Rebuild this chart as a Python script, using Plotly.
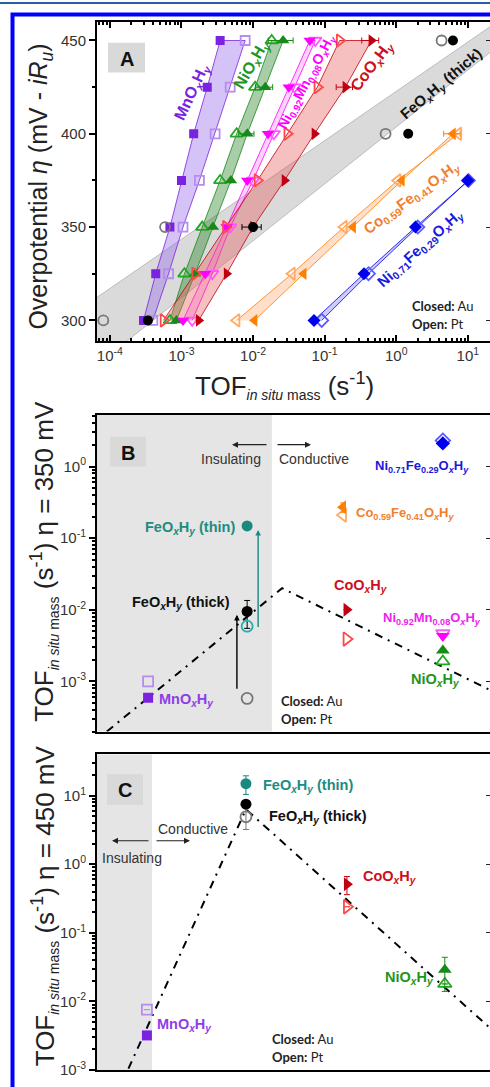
import math
import plotly.graph_objects as go

W, H = 490, 1087
FONT = "Liberation Sans"

# ---------------- Panel A data (TOF in s^-1 vs overpotential in mV) ----------------
eta = [300, 325, 350, 375, 400, 425, 450]
mn_au = [2.95e-4, 4.37e-4, 6.9e-4, 1.0e-3, 1.48e-3, 2.29e-3, 3.47e-3]
mn_pt = [3.98e-4, 6.6e-4, 1.05e-3, 1.78e-3, 2.95e-3, 4.79e-3, 7.76e-3]
ni_au = [8.5e-4, 1.55e-3, 2.75e-3, 4.9e-3, 8.3e-3, 1.48e-2, 2.63e-2]
ni_pt = [6.9e-4, 1.1e-3, 1.95e-3, 3.47e-3, 5.9e-3, 1.07e-2, 1.82e-2]
ni_au_err = [0, 0, 0, 0, 0.002, 0.004, 0.01]
nimn_au = [1.05e-3, 2.14e-3, 4.27e-3, 8.3e-3, 1.62e-2, 3.16e-2, 6.2e-2]
nimn_pt = [1.41e-3, 2.69e-3, 4.79e-3, 1.0e-2, 1.95e-2, 3.8e-2, 7.4e-2]
co_au = [1.74e-3, 4.27e-3, 1.0e-2, 2.75e-2, 7.2e-2, 0.195, 0.45]
co_pt = [5.6e-4, 1.55e-3, 4.17e-3, 1.15e-2, 3.0e-2, 7.9e-2, 0.162]
co_au_err = [0, 0, 0, 0, 0, 0.05, 0.12]
eta_fe = [300, 350, 400, 450]
fe_au = [3.4e-4, 1.0e-2, 1.47, 6.2]
fe_pt = [8.1e-5, 5.9e-4, 0.71, 4.3]
fe_au_err = [0, 0.003, 0, 0]
eta_fe_band = [288, 461]
fe_band_left = [7.9e-6, 28.0]
fe_band_right = [1.62e-4, 76.0]
eta_cofe = [300, 325, 350, 375, 400]
cofe_au = [1.05e-2, 5.1e-2, 0.25, 1.2, 6.2]
cofe_pt = [5.9e-3, 3.5e-2, 0.186, 1.05, 7.4]
cofe_au_err = [0, 0, 0, 0, 1.6]
eta_nife = [300, 325, 350, 375]
nife_au = [7.1e-2, 0.355, 1.86, 10.0]
nife_pt = [9.1e-2, 0.41, 2.0, 10.2]

a_xticks = [1e-4, 1e-3, 1e-2, 1e-1, 1, 10]
a_xticktext = ["10<sup>-4</sup>", "10<sup>-3</sup>", "10<sup>-2</sup>",
               "10<sup>-1</sup>", "10<sup>0</sup>", "10<sup>1</sup>"]
a_yticks = [300, 350, 400, 450]

# ---------------- Panel B data (eta = 350 mV) ----------------
b_names = ["mn", "fe_thick", "fe_thin", "co", "cofe", "nimn", "ni", "nife"]
b_pos = [13.0, 38.2, 38.2, 63.5, 62.6, 88.0, 88.0, 88.0]
b_au = [5.9e-4, 9.5e-3, 0.148, 1.0e-2, 0.27, 4.3e-3, 2.7e-3, 2.1]
b_pt = [1.0e-3, 5.8e-4, 5.9e-3, 3.9e-3, 0.21, 4.7e-3, 1.9e-3, 2.3]
b_au_err = [0, 0.004, 0, 0, 0.04, 0, 0, 0]
b_volcano_x = [2.5, 47.1, 100]
b_volcano_y = [2.0e-4, 2.0e-2, 7.6e-4]
b_insulating_limit = 44.5
b_arrow_black = [35.6, 7.5e-4, 8.5e-3]
b_arrow_teal = [41.0, 5.5e-3, 0.13]
b_yticks = [1e-3, 1e-2, 1e-1, 1]
b_yticktext = ["10<sup>-3</sup>", "10<sup>-2</sup>", "10<sup>-1</sup>", "10<sup>0</sup>"]

# ---------------- Panel C data (eta = 450 mV) ----------------
c_names = ["mn", "fe_thick", "fe_thin", "co", "ni"]
c_pos = [12.7, 37.9, 37.9, 63.6, 88.5]
c_au = [3.2e-3, 7.5, 14.9, 0.51, 0.029]
c_pt = [7.6e-3, 4.9, None, 0.24, 0.018]
c_au_err = [0, 0, 4.5, 0.15, 0.015]
c_pt_err = [0, 1.7, 0, 0, 0]
c_volcano_x = [8.0, 37.9, 100]
c_volcano_y = [1.05e-3, 6.3, 4.1e-3]
c_insulating_limit = 14.0
c_yticks = [1e-3, 1e-2, 1e-1, 1, 10]
c_yticktext = ["10<sup>-3</sup>", "10<sup>-2</sup>", "10<sup>-1</sup>", "10<sup>0</sup>", "10<sup>1</sup>"]

# ---------------- styles ----------------
STY = {
    "mn": dict(sym="square", au="#7a22e0", pt="#b58cf0", band="rgba(150,105,235,0.40)", sz=9),
    "ni": dict(sym="triangle-up", au="#178a17", pt="#22a822", band="rgba(30,120,30,0.38)", sz=11),
    "nimn": dict(sym="triangle-down", au="#ff00ff", pt="#ff55ff", band="rgba(255,110,255,0.30)", sz=11),
    "co": dict(sym="triangle-right", au="#c00010", pt="#ff4848", band="rgba(235,90,90,0.38)", sz=11),
    "fe_thick": dict(sym="circle", au="#000000", pt="#777777", band="rgba(150,150,150,0.35)", sz=10),
    "fe_thin": dict(sym="circle", au="#1a8a80", pt="#22b0b0", band=None, sz=10),
    "cofe": dict(sym="triangle-left", au="#ff8000", pt="#ffaa66", band="rgba(255,185,135,0.45)", sz=11),
    "nife": dict(sym="diamond", au="#0000ee", pt="#5a5aff", band="rgba(110,110,255,0.35)", sz=10),
}


def px(x):
    return x / W


def py(y):
    return 1 - y / H


fig = go.Figure()


def band(xa, xb, ys, key, ax="x", ay="y"):
    s = STY[key]
    fig.add_trace(go.Scatter(
        x=list(xa) + list(xb)[::-1], y=list(ys) + list(ys)[::-1],
        fill="toself", fillcolor=s["band"], mode="lines",
        line=dict(color=s["au"], width=0.8),
        xaxis=ax, yaxis=ay, showlegend=False, hoverinfo="skip"))


def marks(xs, ys, key, closed, ax, ay, err=None, err_dir="x", size_add=0):
    s = STY[key]
    col = s["au"] if closed else s["pt"]
    sym = s["sym"] if closed else s["sym"] + "-open"
    kw = {}
    if err is not None:
        kw["error_" + err_dir] = dict(type="data", array=err, visible=True, color=col,
                                      thickness=1, width=3)
    fig.add_trace(go.Scatter(
        x=xs, y=ys, mode="markers", xaxis=ax, yaxis=ay,
        marker=dict(symbol=sym, size=s["sz"] + size_add, color=col,
                    line=dict(width=1.8 if not closed else 0, color=col)),
        showlegend=False, hoverinfo="skip", **kw))


# ---------- Panel A ----------
fig.add_trace(go.Scatter(
    x=fe_band_left + fe_band_right[::-1], y=eta_fe_band + eta_fe_band[::-1],
    fill="toself", fillcolor=STY["fe_thick"]["band"], mode="lines",
    line=dict(color="rgba(120,120,120,0.5)", width=0.8), showlegend=False, hoverinfo="skip"))
band(mn_au, mn_pt, eta, "mn")
band(ni_au, ni_pt, eta, "ni")
band(nimn_au, nimn_pt, eta, "nimn")
band(co_pt, co_au, eta, "co")
band(cofe_pt, cofe_au, eta_cofe, "cofe")
band(nife_au, nife_pt, eta_nife, "nife")

marks(mn_pt, eta, "mn", False, "x", "y")
marks(mn_au, eta, "mn", True, "x", "y")
marks(ni_pt, eta, "ni", False, "x", "y")
marks(ni_au, eta, "ni", True, "x", "y", err=ni_au_err)
marks(nimn_pt, eta, "nimn", False, "x", "y")
marks(nimn_au, eta, "nimn", True, "x", "y")
marks(co_pt, eta, "co", False, "x", "y")
marks(co_au, eta, "co", True, "x", "y", err=co_au_err)
marks(fe_pt, eta_fe, "fe_thick", False, "x", "y")
marks(fe_au, eta_fe, "fe_thick", True, "x", "y", err=fe_au_err)
marks(cofe_pt, eta_cofe, "cofe", False, "x", "y")
marks(cofe_au, eta_cofe, "cofe", True, "x", "y", err=cofe_au_err)
marks(nife_pt, eta_nife, "nife", False, "x", "y")
marks(nife_au, eta_nife, "nife", True, "x", "y")

# ---------- Panel B ----------
fig.add_trace(go.Scatter(x=b_volcano_x, y=b_volcano_y, mode="lines", xaxis="x2", yaxis="y2",
                         line=dict(color="black", width=2, dash="8px,6px,2px,6px"),
                         showlegend=False, hoverinfo="skip"))
for i, k in enumerate(b_names):
    marks([b_pos[i]], [b_pt[i]], k, False, "x2", "y2", size_add=1)
    marks([b_pos[i]], [b_au[i]], k, True, "x2", "y2", err=[b_au_err[i]], err_dir="y", size_add=1)

# ---------- Panel C ----------
fig.add_trace(go.Scatter(x=c_volcano_x, y=c_volcano_y, mode="lines", xaxis="x3", yaxis="y3",
                         line=dict(color="black", width=2, dash="8px,6px,2px,6px"),
                         showlegend=False, hoverinfo="skip"))
for i, k in enumerate(c_names):
    if c_pt[i] is not None:
        marks([c_pos[i]], [c_pt[i]], k, False, "x3", "y3", err=[c_pt_err[i]], err_dir="y", size_add=1)
    marks([c_pos[i]], [c_au[i]], k, True, "x3", "y3", err=[c_au_err[i]], err_dir="y", size_add=1)

# dummy traces for right-side tick overlays
for yy in ["y4", "y5", "y6"]:
    fig.add_trace(go.Scatter(x=[], y=[], xaxis="x", yaxis=yy, showlegend=False))

# ---------- axes ----------
tickfont = dict(family=FONT, size=15, color="#333")
xdom = [px(97), 1.0]
dA = [py(344), py(22)]
dB = [py(737), py(418)]
dC = [py(1078), py(760)]


def log_minor(lo, hi):
    return [m * 10 ** e for e in range(lo, hi) for m in range(2, 10)]


ax_common = dict(showline=True, linecolor="black", linewidth=2, showgrid=False, zeroline=False,
                 tickfont=tickfont)

fig.update_layout(
    width=W, height=H, margin=dict(l=0, r=0, t=0, b=0),
    paper_bgcolor="white", plot_bgcolor="rgba(0,0,0,0)",
    xaxis=dict(domain=xdom, anchor="y", type="log", range=[-4.18, 1.31],
               tickvals=a_xticks, ticktext=a_xticktext, ticks="inside", ticklen=6, tickwidth=1.5,
               tickcolor="black", mirror="ticks",
               minor=dict(tickvals=log_minor(-5, 2), ticks="inside", ticklen=3, tickcolor="black"),
               **ax_common),
    yaxis=dict(domain=dA, anchor="x", range=[288.7, 460], tickvals=a_yticks,
               ticks="outside", ticklen=6, tickwidth=1.5, tickcolor="black",
               minor=dict(tickvals=[325, 375, 425], ticks="outside", ticklen=3, tickcolor="black"),
               **ax_common),
    xaxis2=dict(domain=xdom, anchor="y2", range=[0, 100], showticklabels=False, ticks="",
                mirror=True, **ax_common),
    yaxis2=dict(domain=dB, anchor="x2", type="log", range=[-3.70, 0.72],
                tickvals=b_yticks, ticktext=b_yticktext, ticks="outside", ticklen=6, tickwidth=1.5,
                tickcolor="black",
                minor=dict(tickvals=log_minor(-4, 1), ticks="outside", ticklen=3, tickcolor="black"),
                **ax_common),
    xaxis3=dict(domain=xdom, anchor="y3", range=[0, 100], showticklabels=False, ticks="",
                mirror=True, **ax_common),
    yaxis3=dict(domain=dC, anchor="x3", type="log", range=[-3.0, 1.60],
                tickvals=c_yticks, ticktext=c_yticktext, ticks="outside", ticklen=6, tickwidth=1.5,
                tickcolor="black",
                minor=dict(tickvals=log_minor(-3, 2), ticks="outside", ticklen=3, tickcolor="black"),
                **ax_common),
    yaxis4=dict(overlaying="y", anchor="free", position=1.0, side="right", range=[288.7, 460],
                tickvals=a_yticks, ticks="inside", ticklen=4, tickcolor="#222", showticklabels=False,
                showline=False, showgrid=False, zeroline=False),
    yaxis5=dict(overlaying="y2", anchor="free", position=1.0, side="right", type="log",
                range=[-3.70, 0.72], tickvals=b_yticks, ticks="inside", ticklen=4, tickcolor="#222",
                showticklabels=False, showline=False, showgrid=False, zeroline=False),
    yaxis6=dict(overlaying="y3", anchor="free", position=1.0, side="right", type="log",
                range=[-3.0, 1.60], tickvals=c_yticks, ticks="inside", ticklen=4, tickcolor="#222",
                showticklabels=False, showline=False, showgrid=False, zeroline=False),
)

shapes = []
# insulating regions
shapes.append(dict(type="rect", xref="x2", yref="y2 domain", x0=0, x1=b_insulating_limit, y0=0, y1=1,
                   fillcolor="#e5e5e5", line=dict(width=0), layer="below"))
shapes.append(dict(type="rect", xref="x3", yref="y3 domain", x0=0, x1=c_insulating_limit, y0=0, y1=1,
                   fillcolor="#e5e5e5", line=dict(width=0), layer="below"))
# panel letter boxes
for (x0, y0, x1, y1) in [(108, 43, 145, 73), (110, 440, 146, 470), (107, 780, 143, 811)]:
    shapes.append(dict(type="rect", xref="paper", yref="paper", x0=px(x0), x1=px(x1),
                       y0=py(y1), y1=py(y0), fillcolor="#d9d9d9", line=dict(width=0), layer="below"))
# frame
shapes.append(dict(type="line", xref="paper", yref="paper", x0=0, x1=1, y0=py(3), y1=py(3),
                   line=dict(color="#2a5caa", width=2)))
shapes.append(dict(type="rect", xref="paper", yref="paper", x0=px(12.5), x1=px(530), y0=py(1120),
                   y1=py(14.5), line=dict(color="#0000ff", width=4)))
fig.update_layout(shapes=shapes)

ann = []


def txt(t, x, y, color="#111", size=14, angle=0, bold=True, family=FONT, xanchor="center"):
    ann.append(dict(text=("<b>%s</b>" % t) if bold else t, x=px(x), y=py(y), xref="paper",
                    yref="paper", showarrow=False, textangle=angle, xanchor=xanchor, yanchor="middle",
                    font=dict(family=family, size=size, color=color)))


OXHY = "O<sub><i>x</i></sub>H<sub><i>y</i></sub>"
# panel letters
txt("A", 127, 59, size=20)
txt("B", 128, 456, size=20)
txt("C", 125, 796, size=20)

# panel A labels
txt("Mn" + OXHY, 192, 93, STY["mn"]["au"], 16, -65)
txt("Ni" + OXHY, 252, 65, "#1e961e", 16, -60)
txt("Ni<sub>0.92</sub>Mn<sub>0.08</sub>" + OXHY, 307, 83, "#ff00ff", 14, -62)
txt("Co" + OXHY, 372, 67, "#cc1020", 16, -53)
txt("Fe" + OXHY + " (thick)", 441, 85, "#111", 15, -40)
txt("Co<sub>0.59</sub>Fe<sub>0.41</sub>" + OXHY, 412, 199, "#f08030", 15, -36)
txt("Ni<sub>0.71</sub>Fe<sub>0.29</sub>" + OXHY, 420, 250, "#1a1adc", 15, -42)

# panel B labels
txt("Ni<sub>0.71</sub>Fe<sub>0.29</sub>" + OXHY, 422, 470, "#1a1adc", 13)
txt("Co<sub>0.59</sub>Fe<sub>0.41</sub>" + OXHY, 405, 517, "#f08030", 13)
txt("Fe" + OXHY + " (thin)", 190, 532, "#1e8c80", 14.5)
txt("Fe" + OXHY + " (thick)", 181, 607, "#111", 14.5)
txt("Co" + OXHY, 361, 590, "#cc1020", 14.5)
txt("Ni<sub>0.92</sub>Mn<sub>0.08</sub>" + OXHY, 432, 623, "#ee22ee", 13)
txt("Ni" + OXHY, 435, 685, "#1e961e", 14.5)
txt("Mn" + OXHY, 186, 705, "#8f3ee6", 14.5)

# panel C labels
txt("Fe" + OXHY + " (thin)", 308, 792, "#1e8c80", 14.5)
txt("Fe" + OXHY + " (thick)", 318, 823, "#111", 14.5)
txt("Co" + OXHY, 390, 883, "#cc1020", 14.5)
txt("Ni" + OXHY, 409, 985, "#1e961e", 14.5)
txt("Mn" + OXHY, 184, 1033, "#8f3ee6", 14.5)

# insulating / conductive
txt("Insulating", 231, 462, "#333", 14, bold=False)
txt("Conductive", 314, 462, "#333", 14, bold=False)
txt("Conductive", 193, 835, "#333", 14, bold=False)
txt("Insulating", 132, 864, "#333", 14, bold=False)


def parrow(xh, yh, xt, yt):
    ann.append(dict(text="", x=px(xh), y=py(yh), xref="paper", yref="paper", showarrow=True,
                    ax=xt - xh, ay=yt - yh, arrowhead=2, arrowsize=1, arrowwidth=1.2,
                    arrowcolor="#222", standoff=0, startstandoff=0))


parrow(232, 448, 268, 448)
parrow(311, 448, 276, 448)
parrow(112, 847, 150, 847)
parrow(190, 847, 155, 847)

# vertical arrows in B (data coordinates)
for (xa, y0, y1), col in [(b_arrow_black, "black"), (b_arrow_teal, "#1a8a80")]:
    ann.append(dict(text="", x=xa, y=math.log10(y1), xref="x2", yref="y2", ax=xa,
                    ay=math.log10(y0), axref="x2", ayref="y2", showarrow=True, arrowhead=2,
                    arrowsize=0.8, arrowwidth=1.4, arrowcolor=col, standoff=0))

# closed / open notes
for (x0, y0) in [(410, 308), (279, 706), (270, 1047)]:
    txt("<b>Closed:</b> Au", x0, y0, "#222", 13, bold=False, family="Lato", xanchor="left")
    txt("<b>Open:</b> Pt", x0, y0 + 18, "#222", 13, bold=False, family="Lato", xanchor="left")

# axis titles
TOF = 'TOF<sub><span style="font-size:14px"><i>in situ</i> mass</span></sub> (s<sup>-1</sup>)'
txt("Overpotential <i>η</i> (mV - <i>iR</i><sub><i>u</i></sub>)", 40, 188, "#222", 25, -90, bold=False)
txt(TOF, 284, 388, "#222", 26, bold=False)
txt(TOF + " η = 350 mV", 44, 566, "#222", 26, -90, bold=False)
txt(TOF + " η = 450 mV", 44, 913, "#222", 26, -90, bold=False)

fig.update_layout(annotations=ann)
fig.write_html("out.html")
